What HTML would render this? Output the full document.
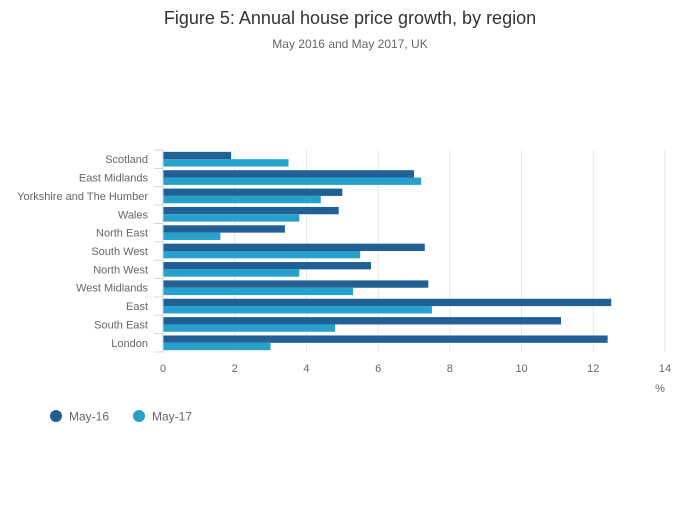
<!DOCTYPE html>
<html><head><meta charset="utf-8"><style>
body{margin:0;background:#fff;font-family:"Liberation Sans",sans-serif;}
text{font-family:"Liberation Sans",sans-serif;}
</style></head><body>
<svg id="chart" width="700" height="502" xmlns="http://www.w3.org/2000/svg">
<text x="350" y="24" text-anchor="middle" font-size="18" fill="#333">Figure 5: Annual house price growth, by region</text>
<text x="350" y="48" text-anchor="middle" font-size="12" fill="#666">May 2016 and May 2017, UK</text>
<g id="grid"></g>
<g id="bars"></g>
<g id="yaxis"></g>
<g id="xaxis"></g>
<text x="660" y="392" text-anchor="middle" font-size="11" fill="#666">%</text>
<g>
<g><circle cx="56" cy="416" r="6" fill="#206095"/><text x="69" y="420.5" font-size="12" fill="#666">May-16</text></g>
<g><circle cx="139" cy="416" r="6" fill="#27a0cc"/><text x="152" y="420.5" font-size="12" fill="#666">May-17</text></g>
</g>
</svg>
<script>
const categories=["Scotland","East Midlands","Yorkshire and The Humber","Wales","North East","South West","North West","West Midlands","East","South East","London"];
const may16=[1.9,7.0,5.0,4.9,3.4,7.3,5.8,7.4,12.5,11.1,12.4];
const may17=[3.5,7.2,4.4,3.8,1.6,5.5,3.8,5.3,7.5,4.8,3.0];
const xTicks=[0,2,4,6,8,10,12,14];
const NS="http://www.w3.org/2000/svg";
const x0=163,x1=665,yTop=150,yBot=352,xMax=14;
const xs=v=>x0+(v/xMax)*(x1-x0);
const band=(yBot-yTop)/categories.length;
function mk(t,a,p){const e=document.createElementNS(NS,t);for(const k in a)e.setAttribute(k,a[k]);p.appendChild(e);return e;}
const grid=document.getElementById('grid'),bars=document.getElementById('bars'),ya=document.getElementById('yaxis'),xa=document.getElementById('xaxis');
xTicks.forEach(t=>{
 if(t>0){const l=mk('line',{x1:xs(t),x2:xs(t),y1:yTop,y2:yBot,stroke:'#e6e6e6','stroke-width':1},grid);
 
 }
 const tx=mk('text',{x:xs(t),y:372,'text-anchor':'middle','font-size':11,fill:'#666'},xa);tx.textContent=t;
 
 
});
const bh=band*0.4,pad=band*0.1;
categories.forEach((c,i)=>{
 const y=yTop+i*band;
 const r1=mk('rect',{x:x0,y:y+pad,width:xs(may16[i])-x0,height:bh,fill:'#206095'},bars);
 
 
 const r2=mk('rect',{x:x0,y:y+pad+bh,width:xs(may17[i])-x0,height:bh,fill:'#27a0cc'},bars);
 
 
 const tl=mk('text',{x:148,y:y+band/2+4,'text-anchor':'end','font-size':11,fill:'#666'},ya);tl.textContent=c;
 
 
 mk('line',{x1:154,x2:163,y1:y,y2:y,stroke:'#ccd6eb'},ya);
});
mk('line',{x1:154,x2:163,y1:yBot,y2:yBot,stroke:'#ccd6eb'},ya);
mk('line',{x1:163,x2:163,y1:yTop,y2:yBot,stroke:'#ccd6eb'},ya);
</script>
</body></html>
